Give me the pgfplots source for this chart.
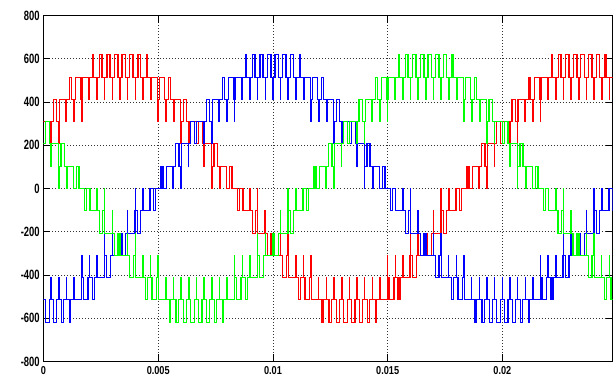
\documentclass[border=0pt]{standalone}
\usepackage{fontspec}
\newfontfamily\tickfont{Liberation Sans}[FakeStretch=0.7]
\newfontfamily\xtickfont{Liberation Sans}[FakeStretch=0.8]
\usepackage{pgfplots}
\pgfplotsset{compat=1.18}
\begin{document}
\begin{tikzpicture}
\useasboundingbox (-43.5bp,-14.5bp) rectangle (572.5bp,361.5bp);
% x data in units of the carrier period (1/3000 s): 15 = 0.005 s
\begin{axis}[
  at={(0,0)}, anchor=south west,
  scale only axis, width=569bp, height=346bp,
  xmin=0, xmax=74.4, ymin=-800, ymax=800,
  xtick={0,15,30,45,60}, xticklabels={0,0.005,0.01,0.015,0.02},
  ytick={-800,-600,-400,-200,0,200,400,600,800},
  yticklabels={-800,-600,-400,-200,0,200,400,600,800},
  grid=major, major grid style={black!80, line width=0.6bp, dash pattern=on 0.8bp off 2.2bp},
  tick align=inside, major tick length=7bp, tick style={black, line width=0.8bp},
  axis line style={black, line width=1bp},
  xticklabel style={anchor=north, inner sep=0pt, yshift=-5bp, font=\xtickfont\fontsize{11.5}{12}\bfseries\selectfont},
  yticklabel style={anchor=east, inner sep=0pt, xshift=-3.7bp, font=\tickfont\fontsize{13.5}{14}\bfseries\selectfont},
  every axis plot/.append style={const plot, line width=1.3bp},
  clip=true,
]
% phase a (red)
\addplot[color={rgb,255:red,255;green,0;blue,0}] coordinates {
(0,309.8)(0.985,208.1)(1.015,309.8)(1.27,411.6)(1.73,309.8)
(1.985,208.1)(2.015,309.8)(2.06,411.6)(2.94,309.8)
(3,411.6)(3.37,513.3)(3.63,411.6)
(3.985,309.8)(4.015,411.6)(4.19,513.3)(4.81,411.6)
(4.985,309.8)(5.015,411.6)(5.05,513.3)(5.95,411.6)
(6,513.3)(6.43,619.7)(6.57,513.3)
(6.985,411.6)(7.015,513.3)(7.34,619.7)(7.66,513.3)
(7.985,411.6)(8.015,513.3)(8.29,619.7)(8.71,513.3)
(8.985,411.6)(9.015,513.3)(9.26,619.7)(9.74,513.3)
(9.985,411.6)(10.015,513.3)(10.26,619.7)(10.74,513.3)
(10.985,411.6)(11.015,513.3)(11.29,619.7)(11.71,513.3)
(11.985,411.6)(12.015,513.3)(12.34,619.7)(12.66,513.3)
(12.985,411.6)(13.015,513.3)(13.43,619.7)(13.57,513.3)
(14,411.6)(14.05,513.3)(14.95,411.6)
(14.985,309.8)(15.015,411.6)(15.19,513.3)(15.81,411.6)
(15.985,309.8)(16.015,411.6)(16.37,513.3)(16.63,411.6)
(17,309.8)(17.06,411.6)(17.94,309.8)
(17.985,208.1)(18.015,309.8)(18.27,411.6)(18.73,309.8)
(18.985,208.1)(19.015,309.8)
(20,208.1)(20.25,309.8)(20.75,208.1)
(21,101.7)(21.02,208.1)(21.98,101.7)
(21.985,0)(22.015,101.7)(22.29,208.1)(22.71,101.7)
(23,0)(23.07,101.7)(23.93,0)
(24.36,101.7)(24.64,0)
(25.36,-101.7)(25.64,0)
(26.07,-101.7)(26.93,0)
(27,-101.7)(27.29,-208.1)(27.71,-101.7)
(27.985,0)(28.015,-101.7)(28.02,-208.1)(28.98,-101.7)
(29,-208.1)(29.25,-309.8)(29.75,-208.1)
(30,-309.8)
(30.985,-208.1)(31.015,-309.8)(31.27,-411.6)(31.73,-309.8)
(31.985,-208.1)(32.015,-309.8)(32.06,-411.6)(32.94,-309.8)
(33,-411.6)(33.37,-513.3)(33.63,-411.6)
(33.985,-309.8)(34.015,-411.6)(34.19,-513.3)(34.81,-411.6)
(34.985,-309.8)(35.015,-411.6)(35.05,-513.3)(35.95,-411.6)
(36,-513.3)(36.43,-619.7)(36.57,-513.3)
(36.985,-411.6)(37.015,-513.3)(37.34,-619.7)(37.66,-513.3)
(37.985,-411.6)(38.015,-513.3)(38.29,-619.7)(38.71,-513.3)
(38.985,-411.6)(39.015,-513.3)(39.26,-619.7)(39.74,-513.3)
(39.985,-411.6)(40.015,-513.3)(40.26,-619.7)(40.74,-513.3)
(40.985,-411.6)(41.015,-513.3)(41.29,-619.7)(41.71,-513.3)
(41.985,-411.6)(42.015,-513.3)(42.34,-619.7)(42.66,-513.3)
(42.985,-411.6)(43.015,-513.3)(43.43,-619.7)(43.57,-513.3)
(44,-411.6)(44.05,-513.3)(44.95,-411.6)
(44.985,-309.8)(45.015,-411.6)(45.19,-513.3)(45.81,-411.6)
(45.985,-309.8)(46.015,-411.6)(46.37,-513.3)(46.63,-411.6)
(47,-309.8)(47.06,-411.6)(47.94,-309.8)
(47.985,-208.1)(48.015,-309.8)(48.27,-411.6)(48.73,-309.8)
(48.985,-208.1)(49.015,-309.8)
(50,-208.1)(50.25,-309.8)(50.75,-208.1)
(51,-101.7)(51.02,-208.1)(51.98,-101.7)
(51.985,0)(52.015,-101.7)(52.29,-208.1)(52.71,-101.7)
(53,0)(53.07,-101.7)(53.93,0)
(54.36,-101.7)(54.64,0)
(55.36,101.7)(55.64,0)
(56.07,101.7)(56.93,0)
(57,101.7)(57.29,208.1)(57.71,101.7)
(57.985,0)(58.015,101.7)(58.02,208.1)(58.98,101.7)
(59,208.1)(59.25,309.8)(59.75,208.1)
(60,309.8)
(60.985,208.1)(61.015,309.8)(61.27,411.6)(61.73,309.8)
(61.985,208.1)(62.015,309.8)(62.06,411.6)(62.94,309.8)
(63,411.6)(63.37,513.3)(63.63,411.6)
(63.985,309.8)(64.015,411.6)(64.19,513.3)(64.81,411.6)
(64.985,309.8)(65.015,411.6)(65.05,513.3)(65.95,411.6)
(66,513.3)(66.43,619.7)(66.57,513.3)
(66.985,411.6)(67.015,513.3)(67.34,619.7)(67.66,513.3)
(67.985,411.6)(68.015,513.3)(68.29,619.7)(68.71,513.3)
(68.985,411.6)(69.015,513.3)(69.26,619.7)(69.74,513.3)
(69.985,411.6)(70.015,513.3)(70.26,619.7)(70.74,513.3)
(70.985,411.6)(71.015,513.3)(71.29,619.7)(71.71,513.3)
(71.985,411.6)(72.015,513.3)(72.34,619.7)(72.66,513.3)
(72.985,411.6)(73.015,513.3)(73.43,619.7)(73.57,513.3)
(74,411.6)(74.05,513.3)(74.95,411.6)(75,411.6)
};
% phase b (blue)
\addplot[color={rgb,255:red,0;green,0;blue,255}] coordinates {
(0,-513.3)(0.26,-619.7)(0.74,-513.3)
(0.985,-411.6)(1.015,-513.3)(1.29,-619.7)(1.71,-513.3)
(1.985,-411.6)(2.015,-513.3)(2.34,-619.7)(2.66,-513.3)
(2.985,-411.6)(3.015,-513.3)(3.43,-619.7)(3.57,-513.3)
(4,-411.6)(4.05,-513.3)(4.95,-411.6)
(4.985,-309.8)(5.015,-411.6)(5.19,-513.3)(5.81,-411.6)
(5.985,-309.8)(6.015,-411.6)(6.37,-513.3)(6.63,-411.6)
(7,-309.8)(7.06,-411.6)(7.94,-309.8)
(7.985,-208.1)(8.015,-309.8)(8.27,-411.6)(8.73,-309.8)
(8.985,-208.1)(9.015,-309.8)
(10,-208.1)(10.25,-309.8)(10.75,-208.1)
(11,-101.7)(11.02,-208.1)(11.98,-101.7)
(11.985,0)(12.015,-101.7)(12.29,-208.1)(12.71,-101.7)
(13,0)(13.07,-101.7)(13.93,0)
(14.36,-101.7)(14.64,0)
(15.36,101.7)(15.64,0)
(16.07,101.7)(16.93,0)
(17,101.7)(17.29,208.1)(17.71,101.7)
(17.985,0)(18.015,101.7)(18.02,208.1)(18.98,101.7)
(19,208.1)(19.25,309.8)(19.75,208.1)
(20,309.8)
(20.985,208.1)(21.015,309.8)(21.27,411.6)(21.73,309.8)
(21.985,208.1)(22.015,309.8)(22.06,411.6)(22.94,309.8)
(23,411.6)(23.37,513.3)(23.63,411.6)
(23.985,309.8)(24.015,411.6)(24.19,513.3)(24.81,411.6)
(24.985,309.8)(25.015,411.6)(25.05,513.3)(25.95,411.6)
(26,513.3)(26.43,619.7)(26.57,513.3)
(26.985,411.6)(27.015,513.3)(27.34,619.7)(27.66,513.3)
(27.985,411.6)(28.015,513.3)(28.29,619.7)(28.71,513.3)
(28.985,411.6)(29.015,513.3)(29.26,619.7)(29.74,513.3)
(29.985,411.6)(30.015,513.3)(30.26,619.7)(30.74,513.3)
(30.985,411.6)(31.015,513.3)(31.29,619.7)(31.71,513.3)
(31.985,411.6)(32.015,513.3)(32.34,619.7)(32.66,513.3)
(32.985,411.6)(33.015,513.3)(33.43,619.7)(33.57,513.3)
(34,411.6)(34.05,513.3)(34.95,411.6)
(34.985,309.8)(35.015,411.6)(35.19,513.3)(35.81,411.6)
(35.985,309.8)(36.015,411.6)(36.37,513.3)(36.63,411.6)
(37,309.8)(37.06,411.6)(37.94,309.8)
(37.985,208.1)(38.015,309.8)(38.27,411.6)(38.73,309.8)
(38.985,208.1)(39.015,309.8)
(40,208.1)(40.25,309.8)(40.75,208.1)
(41,101.7)(41.02,208.1)(41.98,101.7)
(41.985,0)(42.015,101.7)(42.29,208.1)(42.71,101.7)
(43,0)(43.07,101.7)(43.93,0)
(44.36,101.7)(44.64,0)
(45.36,-101.7)(45.64,0)
(46.07,-101.7)(46.93,0)
(47,-101.7)(47.29,-208.1)(47.71,-101.7)
(47.985,0)(48.015,-101.7)(48.02,-208.1)(48.98,-101.7)
(49,-208.1)(49.25,-309.8)(49.75,-208.1)
(50,-309.8)
(50.985,-208.1)(51.015,-309.8)(51.27,-411.6)(51.73,-309.8)
(51.985,-208.1)(52.015,-309.8)(52.06,-411.6)(52.94,-309.8)
(53,-411.6)(53.37,-513.3)(53.63,-411.6)
(53.985,-309.8)(54.015,-411.6)(54.19,-513.3)(54.81,-411.6)
(54.985,-309.8)(55.015,-411.6)(55.05,-513.3)(55.95,-411.6)
(56,-513.3)(56.43,-619.7)(56.57,-513.3)
(56.985,-411.6)(57.015,-513.3)(57.34,-619.7)(57.66,-513.3)
(57.985,-411.6)(58.015,-513.3)(58.29,-619.7)(58.71,-513.3)
(58.985,-411.6)(59.015,-513.3)(59.26,-619.7)(59.74,-513.3)
(59.985,-411.6)(60.015,-513.3)(60.26,-619.7)(60.74,-513.3)
(60.985,-411.6)(61.015,-513.3)(61.29,-619.7)(61.71,-513.3)
(61.985,-411.6)(62.015,-513.3)(62.34,-619.7)(62.66,-513.3)
(62.985,-411.6)(63.015,-513.3)(63.43,-619.7)(63.57,-513.3)
(64,-411.6)(64.05,-513.3)(64.95,-411.6)
(64.985,-309.8)(65.015,-411.6)(65.19,-513.3)(65.81,-411.6)
(65.985,-309.8)(66.015,-411.6)(66.37,-513.3)(66.63,-411.6)
(67,-309.8)(67.06,-411.6)(67.94,-309.8)
(67.985,-208.1)(68.015,-309.8)(68.27,-411.6)(68.73,-309.8)
(68.985,-208.1)(69.015,-309.8)
(70,-208.1)(70.25,-309.8)(70.75,-208.1)
(71,-101.7)(71.02,-208.1)(71.98,-101.7)
(71.985,0)(72.015,-101.7)(72.29,-208.1)(72.71,-101.7)
(73,0)(73.07,-101.7)(73.93,0)
(74.36,-101.7)(74.64,0)(75,0)
};
% phase c (green)
\addplot[color={rgb,255:red,0;green,255;blue,0}] coordinates {
(0,208.1)(0.25,309.8)(0.75,208.1)
(1,101.7)(1.02,208.1)(1.98,101.7)
(1.985,0)(2.015,101.7)(2.29,208.1)(2.71,101.7)
(3,0)(3.07,101.7)(3.93,0)
(4.36,101.7)(4.64,0)
(5.36,-101.7)(5.64,0)
(6.07,-101.7)(6.93,0)
(7,-101.7)(7.29,-208.1)(7.71,-101.7)
(7.985,0)(8.015,-101.7)(8.02,-208.1)(8.98,-101.7)
(9,-208.1)(9.25,-309.8)(9.75,-208.1)
(10,-309.8)
(10.985,-208.1)(11.015,-309.8)(11.27,-411.6)(11.73,-309.8)
(11.985,-208.1)(12.015,-309.8)(12.06,-411.6)(12.94,-309.8)
(13,-411.6)(13.37,-513.3)(13.63,-411.6)
(13.985,-309.8)(14.015,-411.6)(14.19,-513.3)(14.81,-411.6)
(14.985,-309.8)(15.015,-411.6)(15.05,-513.3)(15.95,-411.6)
(16,-513.3)(16.43,-619.7)(16.57,-513.3)
(16.985,-411.6)(17.015,-513.3)(17.34,-619.7)(17.66,-513.3)
(17.985,-411.6)(18.015,-513.3)(18.29,-619.7)(18.71,-513.3)
(18.985,-411.6)(19.015,-513.3)(19.26,-619.7)(19.74,-513.3)
(19.985,-411.6)(20.015,-513.3)(20.26,-619.7)(20.74,-513.3)
(20.985,-411.6)(21.015,-513.3)(21.29,-619.7)(21.71,-513.3)
(21.985,-411.6)(22.015,-513.3)(22.34,-619.7)(22.66,-513.3)
(22.985,-411.6)(23.015,-513.3)(23.43,-619.7)(23.57,-513.3)
(24,-411.6)(24.05,-513.3)(24.95,-411.6)
(24.985,-309.8)(25.015,-411.6)(25.19,-513.3)(25.81,-411.6)
(25.985,-309.8)(26.015,-411.6)(26.37,-513.3)(26.63,-411.6)
(27,-309.8)(27.06,-411.6)(27.94,-309.8)
(27.985,-208.1)(28.015,-309.8)(28.27,-411.6)(28.73,-309.8)
(28.985,-208.1)(29.015,-309.8)
(30,-208.1)(30.25,-309.8)(30.75,-208.1)
(31,-101.7)(31.02,-208.1)(31.98,-101.7)
(31.985,0)(32.015,-101.7)(32.29,-208.1)(32.71,-101.7)
(33,0)(33.07,-101.7)(33.93,0)
(34.36,-101.7)(34.64,0)
(35.36,101.7)(35.64,0)
(36.07,101.7)(36.93,0)
(37,101.7)(37.29,208.1)(37.71,101.7)
(37.985,0)(38.015,101.7)(38.02,208.1)(38.98,101.7)
(39,208.1)(39.25,309.8)(39.75,208.1)
(40,309.8)
(40.985,208.1)(41.015,309.8)(41.27,411.6)(41.73,309.8)
(41.985,208.1)(42.015,309.8)(42.06,411.6)(42.94,309.8)
(43,411.6)(43.37,513.3)(43.63,411.6)
(43.985,309.8)(44.015,411.6)(44.19,513.3)(44.81,411.6)
(44.985,309.8)(45.015,411.6)(45.05,513.3)(45.95,411.6)
(46,513.3)(46.43,619.7)(46.57,513.3)
(46.985,411.6)(47.015,513.3)(47.34,619.7)(47.66,513.3)
(47.985,411.6)(48.015,513.3)(48.29,619.7)(48.71,513.3)
(48.985,411.6)(49.015,513.3)(49.26,619.7)(49.74,513.3)
(49.985,411.6)(50.015,513.3)(50.26,619.7)(50.74,513.3)
(50.985,411.6)(51.015,513.3)(51.29,619.7)(51.71,513.3)
(51.985,411.6)(52.015,513.3)(52.34,619.7)(52.66,513.3)
(52.985,411.6)(53.015,513.3)(53.43,619.7)(53.57,513.3)
(54,411.6)(54.05,513.3)(54.95,411.6)
(54.985,309.8)(55.015,411.6)(55.19,513.3)(55.81,411.6)
(55.985,309.8)(56.015,411.6)(56.37,513.3)(56.63,411.6)
(57,309.8)(57.06,411.6)(57.94,309.8)
(57.985,208.1)(58.015,309.8)(58.27,411.6)(58.73,309.8)
(58.985,208.1)(59.015,309.8)
(60,208.1)(60.25,309.8)(60.75,208.1)
(61,101.7)(61.02,208.1)(61.98,101.7)
(61.985,0)(62.015,101.7)(62.29,208.1)(62.71,101.7)
(63,0)(63.07,101.7)(63.93,0)
(64.36,101.7)(64.64,0)
(65.36,-101.7)(65.64,0)
(66.07,-101.7)(66.93,0)
(67,-101.7)(67.29,-208.1)(67.71,-101.7)
(67.985,0)(68.015,-101.7)(68.02,-208.1)(68.98,-101.7)
(69,-208.1)(69.25,-309.8)(69.75,-208.1)
(70,-309.8)
(70.985,-208.1)(71.015,-309.8)(71.27,-411.6)(71.73,-309.8)
(71.985,-208.1)(72.015,-309.8)(72.06,-411.6)(72.94,-309.8)
(73,-411.6)(73.37,-513.3)(73.63,-411.6)
(73.985,-309.8)(74.015,-411.6)(74.19,-513.3)(74.81,-411.6)(75,-411.6)
};
\end{axis}
\end{tikzpicture}
\end{document}
